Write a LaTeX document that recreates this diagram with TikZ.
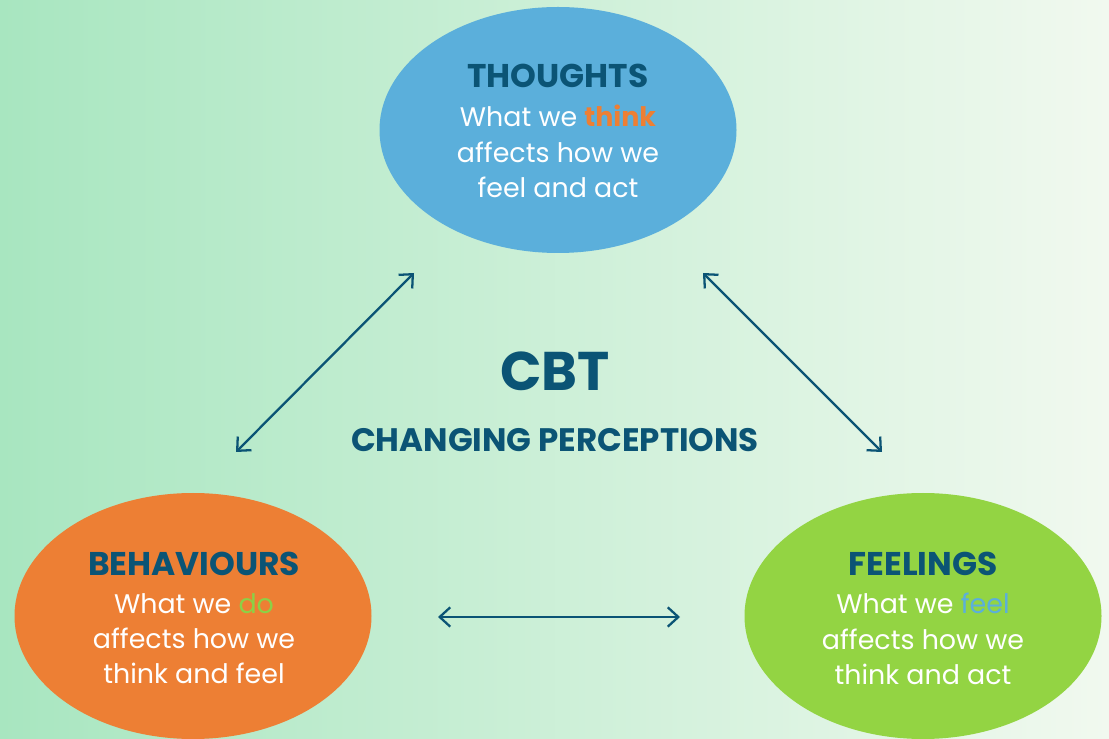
\documentclass[tikz,border=0pt]{standalone}
\usepackage{fontspec}
\setmainfont{Poppins}
\usetikzlibrary{shapes.geometric,arrows.meta}
\definecolor{bgleft}{RGB}{168,230,192}
\definecolor{bgright}{RGB}{241,249,239}
\definecolor{navy}{RGB}{11,84,117}
\definecolor{tblue}{RGB}{91,175,219}
\definecolor{torange}{RGB}{237,127,52}
\definecolor{tgreen}{RGB}{147,212,67}
\definecolor{hgreen}{RGB}{140,208,70}
\tikzset{
  bubble/.style={ellipse, minimum width=357*0.02cm, minimum height=246*0.02cm, inner sep=0pt, draw=none},
  title/.style={text=navy, font=\fontsize{18.7}{22}\selectfont\bfseries, inner sep=0pt, anchor=base},
  body/.style={text=white, font=\fontsize{15.3}{20}\selectfont, align=center, inner sep=0pt, anchor=north},
  link/.style={draw=navy, line width=1.3pt, {Straight Barb[length=6pt,width=11pt,line width=1.3pt]}-{Straight Barb[length=6pt,width=11pt,line width=1.3pt]}}
}
\begin{document}
\begin{tikzpicture}[x=0.02cm,y=-0.02cm]
\useasboundingbox (0,0) rectangle (1109,739);
\clip (0,0) rectangle (1109,739);
\shade[left color=bgleft, right color=bgright] (0,0) rectangle (1109,739);
% bubbles
\node[bubble, fill=tblue] (thoughts) at (558,130) {};
\node[bubble, fill=torange] (behaviours) at (193,616) {};
\node[bubble, fill=tgreen] (feelings) at (923,616) {};
% titles
\node[title] (tT) at (558,88) {THOUGHTS};
\node[title] (tB) at (194,576) {BEHAVIOURS};
\node[title] (tF) at (923,576) {FEELINGS};
% bodies
\node[body] (bT) at (558,105) {What we \textcolor{torange}{\bfseries think}\\affects how we\\feel and act};
\node[body] (bB) at (194,593) {What we \textcolor{hgreen}{do}\\affects how we\\think and feel};
\node[body] (bF) at (923,593) {What we \textcolor{tblue}{feel}\\affects how we\\think and act};
% centre
\node[text=navy, font=\fontsize{31}{35}\selectfont\bfseries, inner sep=0pt, anchor=base] (cbt) at (555,391) {CBT};
\node[text=navy, font=\fontsize{18.5}{21}\selectfont\bfseries, inner sep=0pt, anchor=base] (cp) at (555,452) {CHANGING PERCEPTIONS};
% connectors
\coordinate (a1) at (414,273);
\coordinate (a2) at (236,452);
\coordinate (b1) at (703,273);
\coordinate (b2) at (882,452);
\coordinate (c1) at (438,617);
\coordinate (c2) at (680,617);
\draw[link] (a1) -- (a2);
\draw[link] (b1) -- (b2);
\draw[link] (c1) -- (c2);
\end{tikzpicture}
\end{document}
